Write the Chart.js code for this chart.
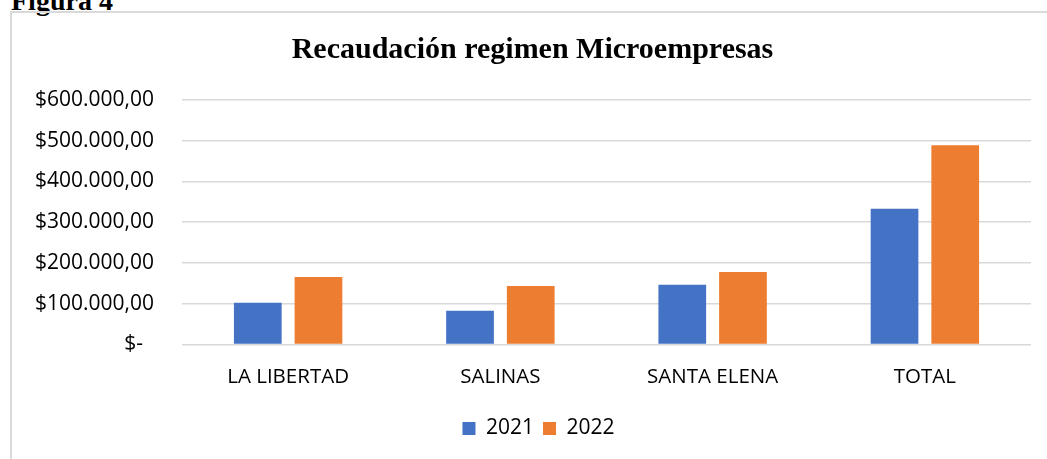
<!DOCTYPE html>
<html>
<head>
<meta charset="utf-8">
<script src="https://cdn.jsdelivr.net/npm/chart.js@4/dist/chart.umd.min.js"></script>
<style>
  html, body { margin:0; padding:0; background:#fff; overflow:hidden; width:1047px; height:459px; }
  #fig { position:absolute; left:11px; top:-13px; font:bold 28px "Liberation Serif", "Times New Roman", serif; line-height:28px; color:#000; white-space:nowrap; }
  #frame { position:absolute; left:10px; top:11px; width:1100px; height:500px; border-left:2px solid #d9d9d9; border-top:2px solid #d9d9d9; }
  #wrap { position:absolute; left:0; top:0; width:1047px; height:459px; }
</style>
</head>
<body>
<div id="fig">Figura 4</div>
<div id="frame"></div>
<div id="wrap"><canvas id="c" width="1047" height="459"></canvas></div>
<script>
const chartTitle = 'Recaudación regimen Microempresas';
const categories = ['LA LIBERTAD', 'SALINAS', 'SANTA ELENA', 'TOTAL'];
const seriesNames = ['2021', '2022'];
const values2021 = [102200, 82500, 146700, 333300];
const values2022 = [165400, 143200, 177800, 488900];
const yTickLabels = ['$-  ', '$100.000,00', '$200.000,00', '$300.000,00', '$400.000,00', '$500.000,00', '$600.000,00'];

const sansFamily = '"Open Sans", sans-serif';

const shiftLegend = {
  id: 'shiftLegend',
  afterLayout(chart) {
    if (chart.legend) { chart.legend.left += 6; chart.legend.right += 6; }
  }
};

new Chart(document.getElementById('c'), {
  type: 'bar',
  data: {
    labels: categories,
    datasets: [
      { label: seriesNames[0], data: values2021, backgroundColor: '#4472C4' },
      { label: seriesNames[1], data: values2022, backgroundColor: '#ED7D31' }
    ]
  },
  plugins: [shiftLegend],
  options: {
    responsive: false,
    devicePixelRatio: 1,
    animation: false,
    datasets: { bar: { categoryPercentage: 0.572, barPercentage: 0.786 } },
    layout: { padding: { left: 34, right: 16, top: 0, bottom: 10 } },
    plugins: {
      title: {
        display: true,
        text: chartTitle,
        color: '#000',
        font: { family: '"Liberation Serif", "Times New Roman", serif', size: 30, weight: 'bold' },
        padding: { top: 32.5, bottom: 31.5 }
      },
      legend: {
        display: true,
        position: 'bottom',
        labels: { color: '#000', font: { family: sansFamily, size: 21 }, boxWidth: 13, boxHeight: 13, padding: 9 }
      },
      tooltip: { enabled: false }
    },
    scales: {
      x: {
        grid: { display: false, drawTicks: false },
        border: { display: false },
        ticks: { color: '#000', font: { family: sansFamily, size: 20.5 }, padding: 20 }
      },
      y: {
        min: 0, max: 600000,
        afterFit: (s) => { s.width = 148; },
        grid: { color: '#d9d9d9', lineWidth: 1.5, drawTicks: false },
        border: { display: false },
        ticks: {
          stepSize: 100000,
          color: '#000',
          font: { family: sansFamily, size: 21 },
          padding: 28,
          callback: (v, i) => yTickLabels[i]
        }
      }
    }
  }
});
</script>
</body>
</html>
